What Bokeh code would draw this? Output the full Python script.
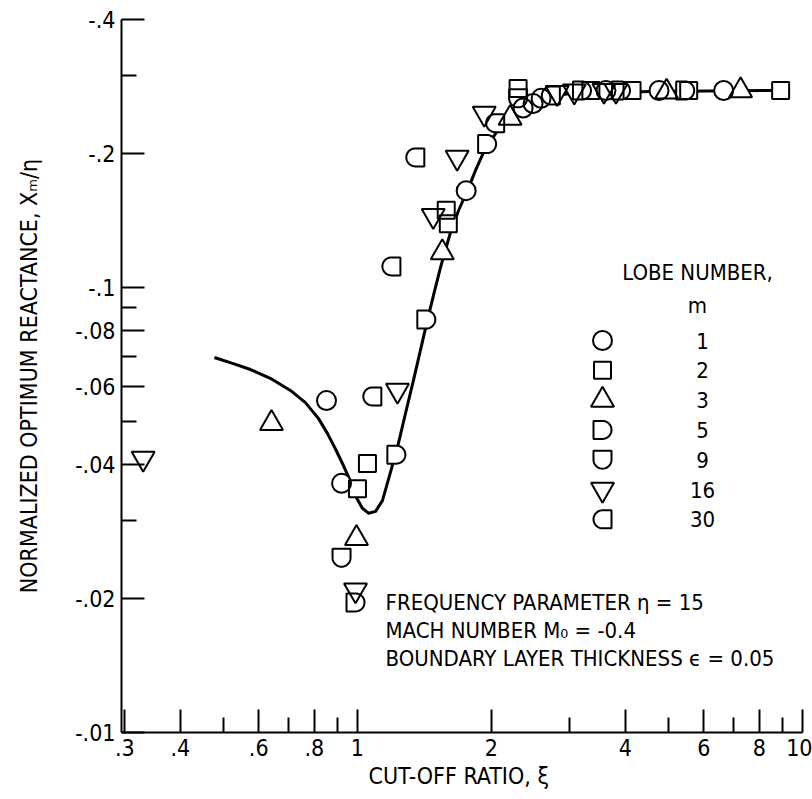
import numpy as np
from bokeh.plotting import figure
from bokeh.models import FixedTicker, Label, Range1d
from bokeh.embed import file_html
from bokeh.resources import INLINE

# ---------------- data ----------------
# lobe number m = 1 (circle)
m1_x = [0.852, 0.921, 1.755, 2.356, 2.481, 2.586, 3.617, 4.76, 6.65]
m1_y = [-0.0557, -0.0363, -0.165, -0.253, -0.259, -0.266, -0.277, -0.277, -0.277]
# m = 2 (square)
m2_x = [1.053, 1.0, 1.600, 1.583, 2.296, 3.346, 4.14, 5.55, 8.93]
m2_y = [-0.0402, -0.0353, -0.139, -0.149, -0.280, -0.277, -0.277, -0.277, -0.277]
# m = 3 (triangle)
m3_x = [0.641, 0.995, 1.551, 2.203, 4.95, 7.26]
m3_y = [-0.0495, -0.0273, -0.1198, -0.240, -0.275, -0.277]
# m = 5 (flat left, round right)
m5_x = [1.223, 0.99, 1.428, 1.956, 3.195, 3.91, 5.45]
m5_y = [-0.0421, -0.0196, -0.0847, -0.210, -0.277, -0.277, -0.277]
# m = 9 (flat top, round bottom)
m9_x = [0.921, 2.296]
m9_y = [-0.0247, -0.266]
# m = 16 (inverted triangle)
m16_x = [0.330, 1.23, 0.99, 1.675, 1.480, 1.927, 2.81, 3.07, 3.58, 3.81]
m16_y = [-0.0413, -0.0587, -0.0209, -0.196, -0.145, -0.246, -0.274, -0.276, -0.277, -0.277]
# m = 30 (round left, flat right)
m30_x = [1.08, 1.349, 1.192, 2.039, 2.72]
m30_y = [-0.0569, -0.196, -0.1115, -0.234, -0.270]

# faired curve
curve_x = [0.477, 0.524, 0.575, 0.637, 0.707, 0.764, 0.817, 0.856, 0.893, 0.930,
           0.964, 0.995, 1.026, 1.059, 1.098, 1.138, 1.186, 1.230, 1.282, 1.336,
           1.385, 1.437, 1.489, 1.537, 1.618, 1.687, 1.767, 1.842, 1.920, 2.064,
           2.242, 2.410, 2.578, 3.010, 4.554, 9.016]
curve_y = [-0.0696, -0.0675, -0.0654, -0.0625, -0.0587, -0.0551, -0.0508, -0.0470,
           -0.0433, -0.0398, -0.0367, -0.0337, -0.0319, -0.0311, -0.0314, -0.0332,
           -0.0384, -0.0437, -0.0521, -0.0618, -0.0722, -0.0847, -0.0979, -0.1109,
           -0.1329, -0.1489, -0.1652, -0.1832, -0.2011, -0.2253, -0.2460, -0.2591,
           -0.2673, -0.2729, -0.2757, -0.2771]

x_ticks = [0.3, 0.4, 0.6, 0.8, 1, 2, 4, 6, 8, 10]
x_tick_labels = [".3", ".4", ".6", ".8", "1", "2", "4", "6", "8", "10"]
x_minor = [0.5, 0.7, 0.9, 3, 5, 7, 9]
y_ticks = [0.4, 0.2, 0.1, 0.08, 0.06, 0.04, 0.02, 0.01]
y_tick_labels = ["-.4", "-.2", "-.1", "-.08", "-.06", "-.04", "-.02", "-.01"]
y_minor = [0.3, 0.09, 0.07, 0.05, 0.03]

lobe_numbers = ["1", "2", "3", "5", "9", "16", "30"]
lobe_kinds = ["circle", "square", "triangle", "d5", "d9", "inverted_triangle", "d30"]

notes = ["FREQUENCY PARAMETER  \u03b7 = 15",
         "MACH NUMBER  M\u2080 = -0.4",
         "BOUNDARY LAYER THICKNESS  \u03f5 = 0.05"]

# ---------------- layout ----------------
FONT = "DejaVu Sans Condensed"
X_START, X_END = 0.295, 10.0
Y_START, Y_END = 0.01, 0.4
FW, FH = 681, 713
LEFT, TOP = 121, 19
KX = FW / np.log10(X_END / X_START)
KY = FH / np.log10(Y_END / Y_START)


def px_to_data(px, py):
    return (X_START * 10 ** ((px - LEFT) / KX),
            Y_START * 10 ** ((TOP + FH - py) / KY))


def d_outline(x, y, kind, r=9.0):
    base = [(-r, -r), (-r, r), (0.0, r)]
    for t in np.linspace(np.pi / 2, -np.pi / 2, 25)[1:]:
        base.append((r * np.cos(t), r * np.sin(t)))
    ang = {"d5": 0.0, "d9": -np.pi / 2, "d30": np.pi}[kind]
    xs, ys = [], []
    for dx, dy in base:
        rx = dx * np.cos(ang) - dy * np.sin(ang)
        ry = dx * np.sin(ang) + dy * np.cos(ang)
        xs.append(x * 10 ** (rx / KX))
        ys.append(y * 10 ** (ry / KY))
    return xs, ys


p = figure(frame_width=FW, frame_height=FH,
           x_axis_type="log", y_axis_type="log",
           x_range=Range1d(X_START, X_END), y_range=Range1d(Y_START, Y_END),
           min_border_left=LEFT, min_border_top=TOP,
           min_border_right=812 - LEFT - FW, min_border_bottom=799 - TOP - FH,
           output_backend="svg", toolbar_location=None,
           background_fill_color="white", border_fill_color="white")
p.outline_line_color = None
p.xgrid.visible = False
p.ygrid.visible = False

for ax, ticks, minor, labels in ((p.xaxis[0], x_ticks, x_minor, x_tick_labels),
                                 (p.yaxis[0], y_ticks, y_minor, y_tick_labels)):
    ax.ticker = FixedTicker(ticks=ticks, minor_ticks=minor)
    ax.major_label_overrides = dict(zip(ticks, labels))
    ax.major_tick_in = 23
    ax.major_tick_out = 0
    ax.minor_tick_in = 15
    ax.minor_tick_out = 0
    ax.axis_line_width = 2
    ax.major_tick_line_width = 2
    ax.minor_tick_line_width = 2
    ax.axis_line_color = "black"
    ax.major_tick_line_color = "black"
    ax.minor_tick_line_color = "black"
    ax.major_label_text_font = FONT
    ax.major_label_text_font_size = "23px"
    ax.major_label_text_color = "black"
    ax.major_label_standoff = 6
    ax.axis_label_text_font = FONT
    ax.axis_label_text_font_size = "23px"
    ax.axis_label_text_font_style = "normal"
    ax.axis_label_text_color = "black"

p.xaxis[0].axis_label = "CUT-OFF RATIO,  \u03be"
p.xaxis[0].axis_label_standoff = 4
p.yaxis[0].axis_label = "NORMALIZED OPTIMUM REACTANCE, X\u2098/\u03b7"
p.yaxis[0].axis_label_standoff = 30
p.yaxis[0].major_label_orientation = "horizontal"

# curve
p.line(curve_x, np.abs(curve_y), line_width=3, line_color="black", line_join="round")

series = [(m1_x, m1_y, "circle"), (m2_x, m2_y, "square"), (m3_x, m3_y, "triangle"),
          (m5_x, m5_y, "d5"), (m9_x, m9_y, "d9"),
          (m16_x, m16_y, "inverted_triangle"), (m30_x, m30_y, "d30")]

# legend positions (pixel layout)
leg_px = 602
leg_rows = [340 + 29.8 * i for i in range(len(lobe_numbers))]
leg_pts = [px_to_data(leg_px, ry) for ry in leg_rows]

sizes = {"circle": 19, "square": 17, "triangle": 23, "inverted_triangle": 23}


def draw(xs, ys, kind, fill_pass):
    if kind in sizes:
        if fill_pass:
            p.scatter(xs, ys, marker=kind, size=sizes[kind], fill_color="white",
                      line_color=None)
        else:
            p.scatter(xs, ys, marker=kind, size=sizes[kind], fill_color=None,
                      line_color="black", line_width=2)
    else:
        px_, py_ = [], []
        for a, b in zip(xs, ys):
            ox, oy = d_outline(a, b, kind)
            px_.append(ox)
            py_.append(oy)
        if fill_pass:
            p.patches(px_, py_, fill_color="white", line_color=None)
        else:
            p.patches(px_, py_, fill_color=None, line_color="black", line_width=2)


for fill_pass in (True, False):
    for sx, sy, kind in series:
        draw(sx, list(np.abs(sy)), kind, fill_pass)
    for (lx, ly), kind in zip(leg_pts, lobe_kinds):
        draw([lx], [ly], kind, fill_pass)


def add_text(px, py, text, align="center", size="22px"):
    tx, ty = px_to_data(px, py)
    p.add_layout(Label(x=tx, y=ty, text=text, text_font=FONT, text_font_size=size,
                       text_color="black", text_align=align, text_baseline="middle"))


# legend texts
add_text(697, 272, "LOBE NUMBER,")
add_text(697, 305, "m")
for num, ry in zip(lobe_numbers, leg_rows):
    add_text(702, ry, num)

for i, note in enumerate(notes):
    add_text(385, 602 + 28 * i, note, align="left")

open("out.html", "w").write(file_html(p, INLINE))
